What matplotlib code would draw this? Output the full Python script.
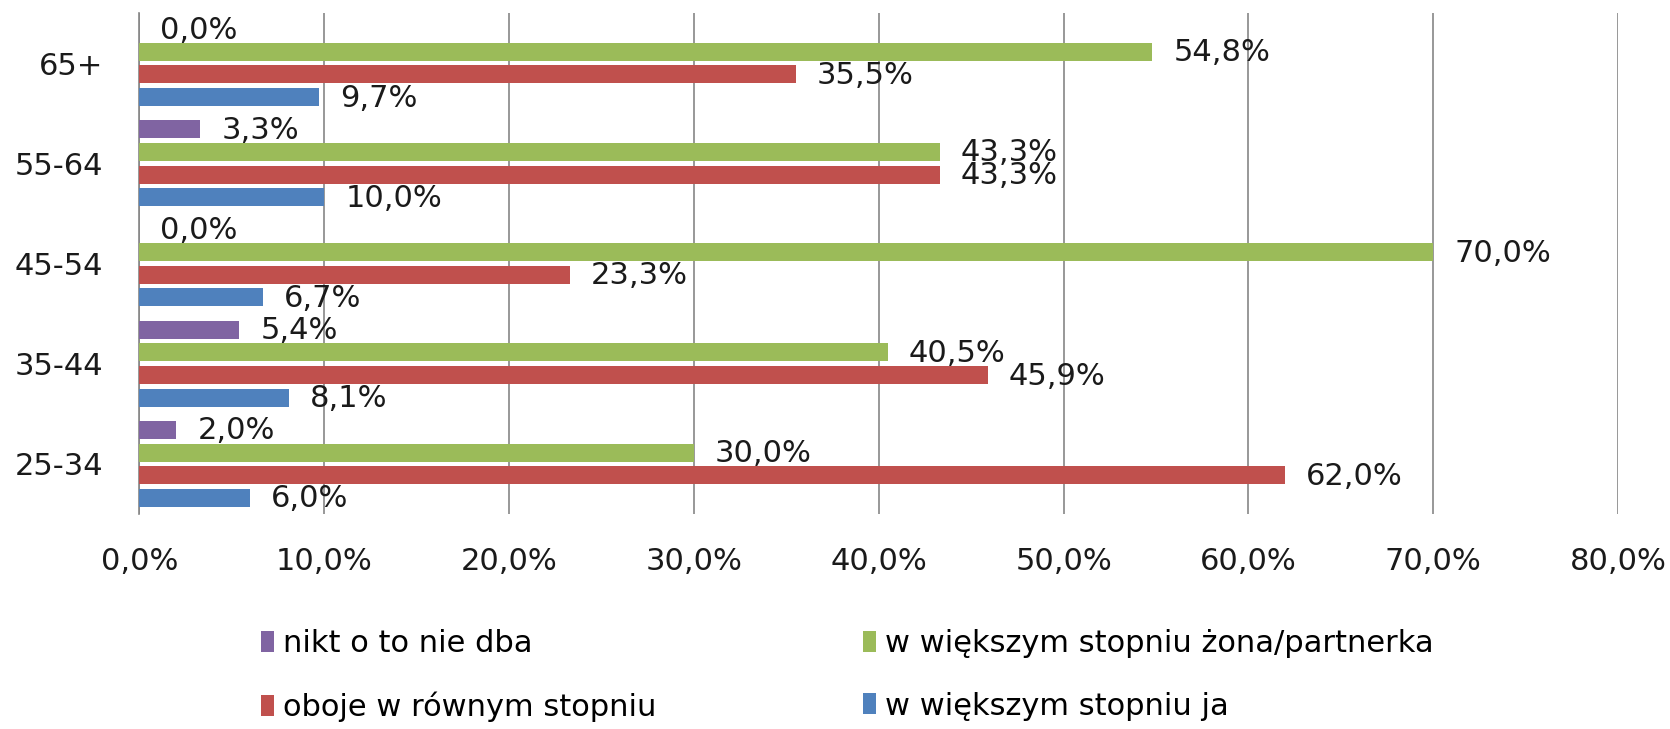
import matplotlib
matplotlib.use("Agg")
import matplotlib.pyplot as plt
from matplotlib.patches import Patch

categories = ["25-34", "35-44", "45-54", "55-64", "65+"]
w_wiekszym_ja = [6.0, 8.1, 6.7, 10.0, 9.7]
oboje = [62.0, 45.9, 23.3, 43.3, 35.5]
zona_partnerka = [30.0, 40.5, 70.0, 43.3, 54.8]
nikt = [2.0, 5.4, 0.0, 3.3, 0.0]
x_ticks = [0, 10, 20, 30, 40, 50, 60, 70, 80]

series = [
    ("w większym stopniu ja", w_wiekszym_ja, "#4F81BD"),
    ("oboje w równym stopniu", oboje, "#C0504D"),
    ("w większym stopniu żona/partnerka", zona_partnerka, "#9BBB59"),
    ("nikt o to nie dba", nikt, "#8064A2"),
]

def fmt(v):
    return ("%.1f%%" % v).replace(".", ",")

fs = 22
plt.rcParams.update({'font.size': fs, 'font.family': 'DejaVu Sans'})
fig = plt.figure(figsize=(16.7, 7.29), dpi=100)
ax = fig.add_axes([0.0835, 0.2949, 0.8854, 0.6873])

slot = 0.226
bar_h = 0.18
handles = {}
for i, (name, vals, color) in enumerate(series):
    offset = (i - 1.5) * slot
    ypos = [k + offset for k in range(len(categories))]
    ax.barh(ypos, vals, height=bar_h, color=color, edgecolor="none", zorder=3)
    for y, v in zip(ypos, vals):
        ax.annotate(fmt(v), xy=(v, y), xytext=(21, -1), textcoords="offset pixels",
                    ha="left", va="center", fontsize=fs, color="#1a1a1a", zorder=4)
    handles[name] = Patch(facecolor=color, edgecolor="none")

ax.set_xlim(0, 80)
ax.set_ylim(-0.5, 4.5)
ax.set_xticks(x_ticks)
ax.set_xticklabels([fmt(t) for t in x_ticks])
ax.set_yticks(range(len(categories)))
ax.set_yticklabels(categories)
ax.tick_params(axis="both", length=0, colors="#1a1a1a")
ax.tick_params(axis="y", pad=26)
ax.tick_params(axis="x", pad=24)
ax.xaxis.grid(True, color="#868686", linewidth=1.2, zorder=0)
for s in ["top", "right", "bottom"]:
    ax.spines[s].set_visible(False)
ax.spines["left"].set_color("#868686")
ax.spines["left"].set_linewidth(1.2)

# legend as two columns placed by hand
leg_kw = dict(frameon=False, fontsize=fs, handlelength=0.43, handleheight=0.67,
              handletextpad=0.3, labelspacing=1.1, borderaxespad=0, borderpad=0)
left_names = ["nikt o to nie dba", "oboje w równym stopniu"]
right_names = ["w większym stopniu żona/partnerka", "w większym stopniu ja"]
l1 = fig.legend([handles[n] for n in left_names], left_names, loc="upper left",
                bbox_to_anchor=(261 / 1670, 1 - 629 / 729), **leg_kw)
l2 = fig.legend([handles[n] for n in right_names], right_names, loc="upper left",
                bbox_to_anchor=(863 / 1670, 1 - 629 / 729), **leg_kw)

plt.savefig("out.png", dpi=100)
